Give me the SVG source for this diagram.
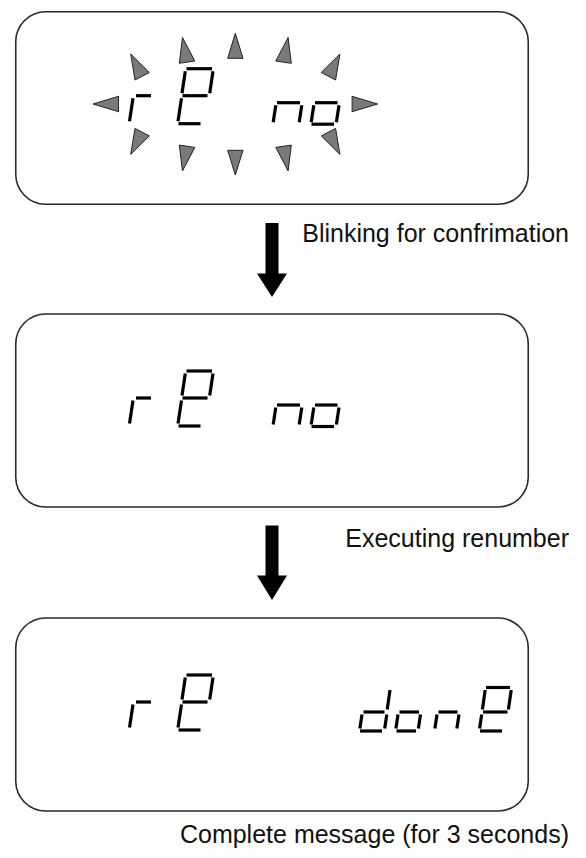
<svg xmlns="http://www.w3.org/2000/svg" width="586" height="858" viewBox="0 0 586 858">
<style>
.box{fill:#fff;stroke:#2a2a2a;stroke-width:1.6}
.seg{stroke:#000;stroke-width:3.2;stroke-linecap:butt;fill:none}
.tri{fill:#7a7a7a;stroke:#222;stroke-width:1}
.lbl{font-family:"Liberation Sans",Arial,sans-serif;font-size:25px;fill:#111;text-anchor:end}
.arr{fill:#000}
</style>
<rect width="586" height="858" fill="#fff"/>
<defs>
<g id="rE">
<line class="seg" x1="136" y1="84" x2="151" y2="84"/>
<line class="seg" x1="133" y1="86.5" x2="129.5" y2="109.5"/>
<line class="seg" x1="186.5" y1="57" x2="212" y2="57"/>
<line class="seg" x1="213" y1="59.5" x2="209.7" y2="81.5"/>
<line class="seg" x1="185.3" y1="59.5" x2="182" y2="81.5"/>
<line class="seg" x1="182.5" y1="84" x2="207.5" y2="84"/>
<line class="seg" x1="181.5" y1="86.5" x2="178" y2="109.5"/>
<line class="seg" x1="178.5" y1="112" x2="200.5" y2="112"/>
</g>
<g id="no">
<line class="seg" x1="277" y1="91" x2="300" y2="91"/>
<line class="seg" x1="275.8" y1="93.5" x2="273.2" y2="110.5"/>
<line class="seg" x1="301.8" y1="93.5" x2="299.2" y2="110.5"/>
<line class="seg" x1="315" y1="91" x2="337.5" y2="91"/>
<line class="seg" x1="313.8" y1="93.5" x2="311.2" y2="110.5"/>
<line class="seg" x1="339" y1="93.5" x2="336.4" y2="110.5"/>
<line class="seg" x1="311.5" y1="112.5" x2="334" y2="112.5"/>
</g>
</defs>

<g id="connectors">
<g id="arrow1">
<polygon class="arr" points="265.5,223 278.5,223 278.5,273.5 287,273.5 272,297 257,273.5 265.5,273.5"/>
<text class="lbl" x="569" y="241.7">Blinking for confrimation</text>
</g>
<g id="arrow2">
<polygon class="arr" points="265.5,525.5 278.5,525.5 278.5,575.5 287,575.5 272,600 257,575.5 265.5,575.5"/>
<text class="lbl" x="569" y="546.7">Executing renumber</text>
</g>
</g>

<g id="node1">
<rect class="box" x="15.75" y="11.75" width="512.5" height="192.5" rx="30" ry="30"/>
<g transform="translate(0,11.7)">
<use href="#rE"/>
<use href="#no"/>
</g>
<g id="blink-marks">
<polygon class="tri" points="235.3,33.3 227.7,58.3 243,58.3"/>
<polygon class="tri" points="235.3,175 227.7,150.3 243,150.3"/>
<polygon class="tri" points="93,104 118.5,96.3 118.5,111.7"/>
<polygon class="tri" points="377.6,104 352.1,96.3 352.1,111.7"/>
<polygon class="tri" points="182.5,37.5 179.3,63.3 194.8,61"/>
<polygon class="tri" points="288.1,37.5 291.3,63.3 275.8,61"/>
<polygon class="tri" points="182.5,170.9 179.3,145.1 194.8,147.4"/>
<polygon class="tri" points="288.1,170.9 291.3,145.1 275.8,147.4"/>
<polygon class="tri" points="130.7,54 149.3,72.5 135,80"/>
<polygon class="tri" points="339.9,54 321.3,72.5 335.6,80"/>
<polygon class="tri" points="130.7,154.4 149.3,135.9 135,128.4"/>
<polygon class="tri" points="339.9,154.4 321.3,135.9 335.6,128.4"/>
</g>
</g>

<g id="node2">
<rect class="box" x="15.75" y="314" width="512.5" height="193" rx="30" ry="30"/>
<g transform="translate(0,314)">
<use href="#rE"/>
<use href="#no"/>
</g>
</g>

<g id="node3">
<rect class="box" x="15.75" y="618" width="512.5" height="193" rx="30" ry="30"/>
<g transform="translate(0,618)">
<use href="#rE"/>
<line class="seg" x1="390" y1="72" x2="387.2" y2="91.5"/>
<line class="seg" x1="386.8" y1="96.5" x2="384.7" y2="110.5"/>
<line class="seg" x1="362" y1="96.5" x2="359.9" y2="110.5"/>
<line class="seg" x1="363.5" y1="94" x2="384.5" y2="94"/>
<line class="seg" x1="360" y1="113" x2="382" y2="113"/>
<line class="seg" x1="399.5" y1="94" x2="419" y2="94"/>
<line class="seg" x1="398" y1="96.5" x2="395.9" y2="110.5"/>
<line class="seg" x1="420.5" y1="96.5" x2="418.4" y2="110.5"/>
<line class="seg" x1="396.5" y1="113" x2="416" y2="113"/>
<line class="seg" x1="438.5" y1="94" x2="457.5" y2="94"/>
<line class="seg" x1="437" y1="96.5" x2="434.9" y2="110.5"/>
<line class="seg" x1="459" y1="96.5" x2="456.9" y2="110.5"/>
<line class="seg" x1="486" y1="69.5" x2="510" y2="69.5"/>
<line class="seg" x1="511.2" y1="72" x2="508.4" y2="91.5"/>
<line class="seg" x1="485.2" y1="72" x2="482.4" y2="91.5"/>
<line class="seg" x1="483" y1="94" x2="507.5" y2="94"/>
<line class="seg" x1="481.7" y1="96.5" x2="479.6" y2="110.5"/>
<line class="seg" x1="480" y1="113" x2="502" y2="113"/>
</g>
</g>

<g id="label3">
<text class="lbl" x="569" y="843.3">Complete message (for 3 seconds)</text>
</g>
</svg>
